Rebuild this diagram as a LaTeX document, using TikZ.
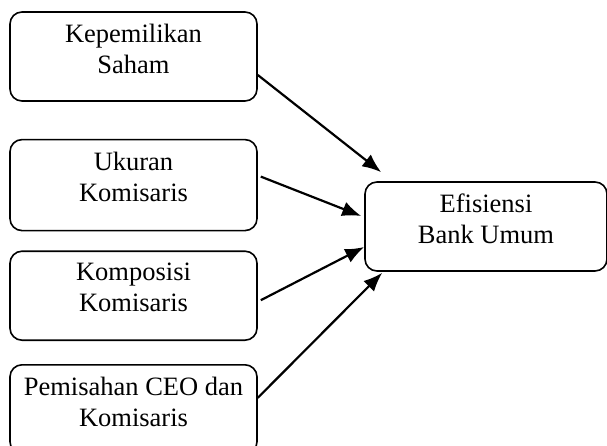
\documentclass[tikz,border=0pt]{standalone}
\usepackage{fontspec}
\setmainfont{Liberation Serif}
\usetikzlibrary{%
    arrows.meta,
    calc,
    positioning
}
\tikzset{headarrow/.style = {-{Latex[length=19pt,width=15pt]}, line width=2.2pt}}
\tikzset{varbox/.style = {draw, line width=1.6pt, rounded corners=12pt, align=center,
    minimum width=247pt, minimum height=89pt, inner sep=0pt, text depth=16pt,
    font=\fontsize{26.5}{31}\selectfont}}

\begin{document}
\begin{tikzpicture}
    \useasboundingbox (0,0) rectangle (607pt,-445pt);

    \node[varbox] (kepemilikan) at (133.5pt,-56.5pt) {Kepemilikan\\Saham};
    \node[varbox,minimum height=91pt] (ukuran) [below=37pt of kepemilikan] {Ukuran\\Komisaris};
    \node[varbox] (komposisi) [below=19pt of ukuran] {Komposisi\\Komisaris};
    \node[varbox] (pemisahan) [below=23pt of komposisi] {Pemisahan CEO dan\\Komisaris};
    \node[varbox,minimum width=242pt] (efisiensi) at (486pt,-226.5pt) {Efisiensi\\Bank Umum};

    \draw[headarrow] ($(kepemilikan.east)+(0,-18.5pt)$) -- ($(efisiensi.north west)+(17pt,9pt)$);
    \draw[headarrow] ($(ukuran.east)+(3pt,8.5pt)$) -- ($(efisiensi.west)+(-3pt,10.5pt)$);
    \draw[headarrow] ($(komposisi.east)+(3pt,-4.5pt)$) -- ($(efisiensi.west)+(0,-20.5pt)$);
    \draw[headarrow] ($(pemisahan.east)+(0,11.5pt)$) -- ($(efisiensi.south west)+(18pt,-1pt)$);
\end{tikzpicture}
\end{document}
